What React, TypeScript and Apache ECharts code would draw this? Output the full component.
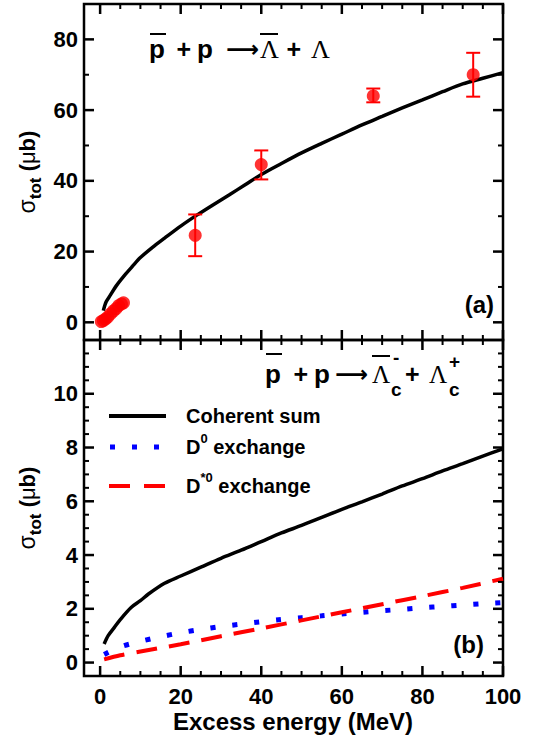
import React, { useEffect, useRef } from "react";
import * as echarts from "echarts";

// ---------- data ----------
// panel (a): pbar p -> Lambdabar Lambda
const topCurveX = [0.8, 1.5, 2.5, 4, 6, 8, 10, 13, 16, 20, 24, 28, 32, 36, 40, 45, 50, 55, 60, 65, 70, 75, 80, 85, 90, 95, 100];
const topCurveY = [3.3, 5.8, 7.6, 10.3, 13.2, 15.8, 18.3, 21.2, 23.8, 27.2, 30.3, 33.2, 36.0, 38.9, 41.8, 44.9, 47.9, 50.6, 53.2, 55.8, 58.2, 60.6, 62.9, 65.2, 67.4, 69.0, 70.6];

const expX = [0.3, 0.8, 1.3, 1.9, 2.6, 3.3, 4.0, 4.6, 5.3, 5.8, 23.6, 40, 67.8, 92.6];
const expY = [0.2, 0.5, 0.9, 1.5, 2.4, 3.2, 3.9, 4.7, 5.2, 5.5, 24.6, 44.6, 64.0, 70.0];

const errX = [23.6, 40, 67.8, 92.6];
const errLow = [18.7, 40.4, 62.2, 63.8];
const errHigh = [30.5, 48.6, 66.1, 76.2];

// panel (b): pbar p -> Lambda_c-bar Lambda_c
const sumX = [1, 2, 3.5, 5, 7.7, 10, 12, 16, 20, 25, 30, 35, 40, 45, 50, 55, 60, 65, 70, 75, 80, 85, 90, 95, 100];
const sumY = [0.69, 1.0, 1.3, 1.6, 2.05, 2.3, 2.55, 2.95, 3.22, 3.55, 3.88, 4.18, 4.5, 4.82, 5.1, 5.4, 5.7, 5.98, 6.27, 6.57, 6.84, 7.13, 7.4, 7.68, 7.95];

const d0X = [1, 5, 10, 15, 20, 25, 30, 35, 40, 45, 50, 55, 60, 65, 70, 75, 80, 85, 90, 95, 100];
const d0Y = [0.3, 0.58, 0.79, 0.96, 1.11, 1.23, 1.34, 1.43, 1.52, 1.6, 1.67, 1.74, 1.81, 1.87, 1.93, 1.98, 2.04, 2.09, 2.14, 2.19, 2.23];

const dStarX = [1, 5, 10, 20, 30, 40, 50, 60, 70, 80, 90, 100];
const dStarY = [0.12, 0.27, 0.41, 0.68, 0.98, 1.27, 1.57, 1.87, 2.17, 2.47, 2.78, 3.12];

// ticks
const xMajor = [0, 20, 40, 60, 80, 100];
const xMinor = [5, 10, 15, 25, 30, 35, 45, 50, 55, 65, 70, 75, 85, 90, 95];
const topYMajor = [0, 20, 40, 60, 80];
const topYMinor = [10, 30, 50, 70];
const botYMajor = [0, 2, 4, 6, 8, 10];
const botYMinor = [0.5, 1, 1.5, 2.5, 3, 3.5, 4.5, 5, 5.5, 6.5, 7, 7.5, 8.5, 9, 9.5, 10.5, 11, 11.5];

const X_MIN = -4;
const X_MAX = 100;
const TOP_Y = [-5, 90];
const BOT_Y = [-0.5, 12];

const GRID_LEFT = 84;
const GRID_WIDTH = 419;
const GRID_HEIGHT = 336;
const GRID_TOPS = [4, 340];

const SANS = "Liberation Sans";
const SERIF = "Liberation Serif";

const MAJOR_LEN = 10;
const MINOR_LEN = 5;

const zip = (a: number[], b: number[]) => a.map((v, i) => [v, b[i]]);

const labelStyle = {
  color: "#000",
  fontFamily: SANS,
  fontWeight: "bold",
  fontSize: 22,
};

function xAx(grid: number, labels: boolean) {
  return {
    type: "value",
    gridIndex: grid,
    position: "bottom",
    min: X_MIN,
    max: X_MAX,
    axisLine: { show: false, onZero: false },
    splitLine: { show: false },
    axisTick: { show: false },
    axisLabel: labels ? { show: true, customValues: xMajor, margin: 9, ...labelStyle } : { show: false },
  };
}

function yAx(grid: number, range: number[], ticks: number[]) {
  return {
    type: "value",
    gridIndex: grid,
    position: "left",
    min: range[0],
    max: range[1],
    axisLine: { show: false, onZero: false },
    splitLine: { show: false },
    axisTick: { show: false },
    axisLabel: { show: true, customValues: ticks, margin: 6, ...labelStyle },
  };
}

function txt(text: string, x: number, y: number, size: number, opts: any = {}) {
  return {
    type: "text",
    x,
    y,
    z: 100,
    style: {
      text,
      fill: "#000",
      fontFamily: opts.family || SANS,
      fontWeight: opts.weight || "bold",
      fontSize: size,
      align: opts.align || "left",
      verticalAlign: "middle",
    },
  };
}

function seg(x1: number, y1: number, x2: number, y2: number, w: number) {
  return {
    type: "line",
    z: 100,
    shape: { x1, y1, x2, y2 },
    style: { stroke: "#000", lineWidth: w },
  };
}

function bar(x1: number, x2: number, y: number) {
  return seg(x1, y, x2, y, 2);
}

const yTitleRich = {
  s: { fontFamily: SANS, fontSize: 23, fontWeight: "normal", lineHeight: 34, fill: "#000" },
  t: { fontFamily: SANS, fontSize: 17, fontWeight: "bold", lineHeight: 17, verticalAlign: "bottom", fill: "#000" },
  n: { fontFamily: SANS, fontSize: 22, fontWeight: "bold", lineHeight: 34, fill: "#000" },
  m: { fontFamily: SANS, fontSize: 22, fontWeight: "normal", lineHeight: 34, fill: "#000" },
};

const legRich = {
  b: { fontFamily: SANS, fontSize: 20, fontWeight: "bold", lineHeight: 30, fill: "#000" },
  sup: { fontFamily: SANS, fontSize: 13, fontWeight: "bold", lineHeight: 13, verticalAlign: "top", fill: "#000" },
};

export default function App() {
  const ref = useRef<HTMLDivElement>(null);

  useEffect(() => {
    if (!ref.current) return;
    const chart = echarts.init(ref.current, null, { renderer: "svg" });

    const errorRender = (params: any, api: any) => {
      const x = api.value(0);
      const lo = api.coord([x, api.value(1)]);
      const hi = api.coord([x, api.value(2)]);
      const cap = 7;
      const st = { stroke: "#ff0000", lineWidth: 2 };
      return {
        type: "group",
        children: [
          { type: "line", shape: { x1: lo[0], y1: lo[1], x2: hi[0], y2: hi[1] }, style: st },
          { type: "line", shape: { x1: lo[0] - cap, y1: lo[1], x2: lo[0] + cap, y2: lo[1] }, style: st },
          { type: "line", shape: { x1: hi[0] - cap, y1: hi[1], x2: hi[0] + cap, y2: hi[1] }, style: st },
        ],
      };
    };

    const baseGraphic: any[] = [
      // top reaction
      txt("p", 149, 49.3, 26),
      bar(150, 166, 34),
      txt("+", 176.5, 49.3, 25),
      txt("p", 197, 49.3, 26),
      txt("\u27F6", 226, 49.3, 23, { family: "DejaVu Sans", weight: "bold" }),
      txt("\u039B", 260, 49.3, 26, { family: SERIF, weight: "normal" }),
      bar(260, 278, 34),
      txt("+", 286.5, 49.3, 25),
      txt("\u039B", 311, 49.3, 26, { family: SERIF, weight: "normal" }),
      // bottom reaction
      txt("p", 265, 374.3, 26),
      bar(266, 282, 354),
      txt("+", 293.5, 374.3, 25),
      txt("p", 314, 374.3, 26),
      txt("\u27F6", 335, 374.3, 23, { family: "DejaVu Sans", weight: "bold" }),
      txt("\u039B", 372, 374.3, 25, { family: SERIF, weight: "normal" }),
      bar(372, 390, 356),
      txt("c", 391, 389, 19),
      txt("-", 393, 357.5, 19),
      txt("+", 405, 374.3, 25),
      txt("\u039B", 429, 374.3, 25, { family: SERIF, weight: "normal" }),
      txt("c", 449, 389, 19),
      txt("+", 449, 361, 19),
      // panel labels
      txt("(a)", 494, 304, 24, { align: "right" }),
      txt("(b)", 484, 644, 24, { align: "right" }),
      // legend
      {
        type: "line",
        z: 100,
        shape: { x1: 109, y1: 416, x2: 166, y2: 416 },
        style: { stroke: "#000", lineWidth: 4 },
      },
      {
        type: "line",
        z: 100,
        shape: { x1: 110, y1: 447, x2: 160, y2: 447 },
        style: { stroke: "#0000ff", lineWidth: 5, lineDash: [5, 17], lineCap: "butt" },
      },
      {
        type: "line",
        z: 100,
        shape: { x1: 109, y1: 486, x2: 166, y2: 486 },
        style: { stroke: "#ff0000", lineWidth: 4, lineDash: [21, 14], lineCap: "butt" },
      },
      txt("Coherent sum", 186, 416, 20),
      {
        type: "text",
        x: 186,
        y: 447,
        z: 100,
        style: { text: "{b|D}{sup|0}{b| exchange}", rich: legRich, align: "left", verticalAlign: "middle" },
      },
      {
        type: "text",
        x: 186,
        y: 486,
        z: 100,
        style: { text: "{b|D}{sup|*0}{b| exchange}", rich: legRich, align: "left", verticalAlign: "middle" },
      },
      // axis titles
      {
        type: "text",
        x: 27,
        y: 172,
        rotation: Math.PI / 2,
        z: 100,
        style: { text: "{s|\u03C3}{t|tot}{n| (}{m|\u03BC}{n|b)}", rich: yTitleRich, align: "center", verticalAlign: "middle" },
      },
      {
        type: "text",
        x: 27,
        y: 508,
        rotation: Math.PI / 2,
        z: 100,
        style: { text: "{s|\u03C3}{t|tot}{n| (}{m|\u03BC}{n|b)}", rich: yTitleRich, align: "center", verticalAlign: "middle" },
      },
      txt("Excess energy (MeV)", 293, 721, 24, { align: "center" }),
    ];

    const option: any = {
      animation: false,
      backgroundColor: "#fff",
      grid: GRID_TOPS.map((top) => ({
        left: GRID_LEFT,
        top,
        width: GRID_WIDTH,
        height: GRID_HEIGHT,
        show: true,
        borderColor: "#000",
        borderWidth: 2.5,
        backgroundColor: "transparent",
        containLabel: false,
      })),
      xAxis: [xAx(0, false), xAx(1, true)],
      yAxis: [yAx(0, TOP_Y, topYMajor), yAx(1, BOT_Y, botYMajor)],
      series: [
        {
          name: "theory (a)",
          type: "line",
          xAxisIndex: 0,
          yAxisIndex: 0,
          data: zip(topCurveX, topCurveY),
          showSymbol: false,
          smooth: 0.3,
          lineStyle: { color: "#000", width: 3.5 },
          z: 3,
        },
        {
          name: "errors",
          type: "custom",
          xAxisIndex: 0,
          yAxisIndex: 0,
          data: errX.map((x, i) => [x, errLow[i], errHigh[i]]),
          renderItem: errorRender,
          encode: { x: 0, y: [1, 2] },
          z: 4,
        },
        {
          name: "data",
          type: "scatter",
          xAxisIndex: 0,
          yAxisIndex: 0,
          data: zip(expX, expY),
          symbol: "circle",
          symbolSize: 13,
          itemStyle: { color: "#ff0000" },
          z: 5,
        },
        {
          name: "Coherent sum",
          type: "line",
          xAxisIndex: 1,
          yAxisIndex: 1,
          data: zip(sumX, sumY),
          showSymbol: false,
          smooth: 0.3,
          lineStyle: { color: "#000", width: 3.5 },
          z: 3,
        },
        {
          name: "D0 exchange",
          type: "line",
          xAxisIndex: 1,
          yAxisIndex: 1,
          data: zip(d0X, d0Y),
          showSymbol: false,
          smooth: 0.3,
          lineStyle: { color: "#0000ff", width: 5, type: [5, 17], cap: "butt" },
          z: 3,
        },
        {
          name: "D*0 exchange",
          type: "line",
          xAxisIndex: 1,
          yAxisIndex: 1,
          data: zip(dStarX, dStarY),
          showSymbol: false,
          smooth: 0.3,
          lineStyle: { color: "#ff0000", width: 4, type: [21, 12], cap: "butt" },
          z: 3,
        },
      ],
      graphic: baseGraphic,
    };

    chart.setOption(option);

    // tick marks on all four sides; positions from the grid's scale (with a linear fallback)
    const ranges = [TOP_Y, BOT_Y];
    const toPx = (g: number, p: number[]): number[] => {
      let r: any = null;
      try {
        r = chart.convertToPixel({ xAxisIndex: g, yAxisIndex: g } as any, p);
      } catch (e) {
        r = null;
      }
      if (r && isFinite(r[0]) && isFinite(r[1])) return [r[0], r[1]];
      const yr = ranges[g];
      return [
        GRID_LEFT + ((p[0] - X_MIN) / (X_MAX - X_MIN)) * GRID_WIDTH,
        GRID_TOPS[g] + GRID_HEIGHT - ((p[1] - yr[0]) / (yr[1] - yr[0])) * GRID_HEIGHT,
      ];
    };

    const ticks: any[] = [];
    const panels = [
      { g: 0, yr: TOP_Y, yMaj: topYMajor, yMin: topYMinor },
      { g: 1, yr: BOT_Y, yMaj: botYMajor, yMin: botYMinor },
    ];
    panels.forEach((p) => {
      const addX = (vals: number[], len: number, w: number) =>
        vals.forEach((v) => {
          const b = toPx(p.g, [v, p.yr[0]]);
          const t = toPx(p.g, [v, p.yr[1]]);
          ticks.push(seg(b[0], b[1], b[0], b[1] - len, w));
          ticks.push(seg(t[0], t[1], t[0], t[1] + len, w));
        });
      const addY = (vals: number[], len: number, w: number) =>
        vals.forEach((v) => {
          const l = toPx(p.g, [X_MIN, v]);
          const r = toPx(p.g, [X_MAX, v]);
          ticks.push(seg(l[0], l[1], l[0] + len, l[1], w));
          ticks.push(seg(r[0], r[1], r[0] - len, r[1], w));
        });
      addX(xMajor, MAJOR_LEN, 2.5);
      addX(xMinor, MINOR_LEN, 2);
      addY(p.yMaj, MAJOR_LEN, 2.5);
      addY(p.yMin, MINOR_LEN, 2);
    });

    chart.setOption({ ...option, graphic: [...baseGraphic, ...ticks] }, true);

    return () => chart.dispose();
  }, []);

  return (
    <div
      ref={ref}
      style={{ position: "fixed", left: 0, top: 0, width: 538, height: 744, background: "#fff" }}
    />
  );
}
